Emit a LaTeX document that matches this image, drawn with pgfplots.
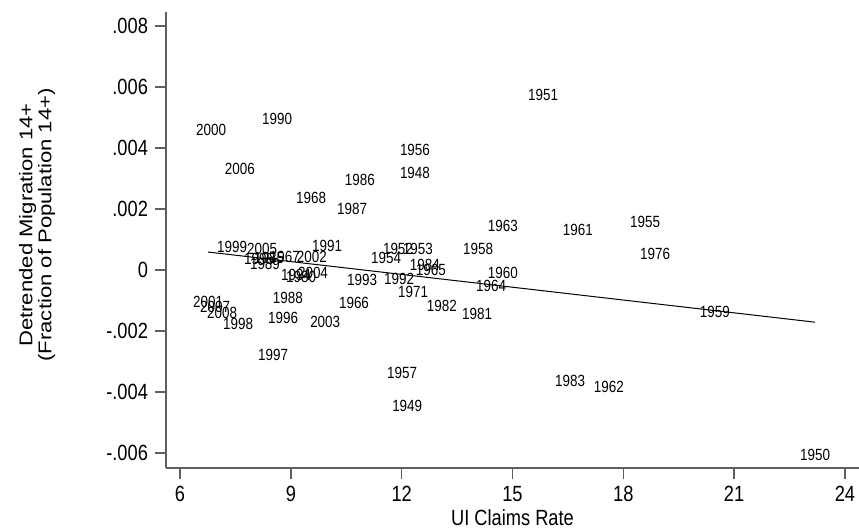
\documentclass[border=0pt]{standalone}
\usepackage{fontspec}
\setmainfont{Liberation Sans}
% the reference is squeezed sideways: horizontal text narrow, vertical text long
\newfontfamily\hfont[FakeStretch=0.83]{Liberation Sans}
\newfontfamily\vfont[FakeStretch=1.2]{Liberation Sans}
\usepackage{pgfplots}
\usepackage{pgfplotstable}
\pgfplotsset{compat=1.18}
\definecolor{axgray}{RGB}{95,95,95}

\pgfplotstableread{
x y lab
15.83 0.00574 1951
6.84 0.00459 2000
8.63 0.00495 1990
12.36 0.00393 1956
7.62 0.00331 2006
12.36 0.00318 1948
10.87 0.00295 1986
9.55 0.00236 1968
10.66 0.00200 1987
14.74 0.00144 1963
16.77 0.00131 1961
18.59 0.00157 1955
18.86 0.00052 1976
14.07 0.00069 1958
14.74 -0.00010 1960
14.42 -0.00052 1964
11.90 0.00069 1952
12.44 0.00069 1953
11.58 0.00039 1954
12.63 0.00016 1984
12.79 0.00000 1965
10.93 -0.00033 1993
11.93 -0.00030 1992
12.31 -0.00072 1971
10.71 -0.00108 1966
13.09 -0.00118 1982
14.04 -0.00144 1981
20.48 -0.00138 1959
12.01 -0.00338 1957
12.15 -0.00446 1949
16.56 -0.00364 1983
17.61 -0.00384 1962
23.19 -0.00607 1950
7.41 0.00075 1999
8.22 0.00069 2005
9.98 0.00079 1991
8.14 0.00036 1995
8.41 0.00039 1985
8.84 0.00043 1967
9.57 0.00043 2002
8.30 0.00020 1989
9.14 -0.00016 1994
9.28 -0.00023 1980
9.60 -0.00010 2004
6.76 -0.00105 2001
6.95 -0.00121 2007
7.14 -0.00141 2008
7.57 -0.00177 1998
8.92 -0.00092 1988
8.79 -0.00157 1996
9.93 -0.00171 2003
8.52 -0.00279 1997
}\yrs

\begin{document}
\begin{tikzpicture}
\useasboundingbox (-83pt,-30.5pt) rectangle (346.5pt,234pt);
\begin{axis}[
    scale only axis,
    width=346.5pt, height=228pt,
    xmin=5.62, xmax=24.38,
    ymin=-0.00649, ymax=0.00846,
    axis x line*=bottom, axis y line*=left,
    axis line style={axgray, line width=0.7pt},
    tick style={axgray, line width=0.7pt},
    tick align=outside, major tick length=5.5pt,
    xtick={6,9,...,24},
    ytick={-0.006,-0.004,-0.002,0,0.002,0.004,0.006,0.008},
    yticklabels={-.006,-.004,-.002,0,.002,.004,.006,.008},
    scaled y ticks=false,
    /pgf/number format/assume math mode=true,
    ticklabel style={font=\fontsize{11}{12}\selectfont\hfont},
    xlabel={UI Claims Rate},
    ylabel={Detrended Migration 14+\\(Fraction of Population 14+)},
    x label style={at={(axis description cs:0.5,0)}, anchor=center, yshift=-25pt,
        font=\fontsize{11}{12}\selectfont\hfont},
    y label style={at={(axis description cs:-0.186,0.533)}, anchor=center, align=center,
        font=\fontsize{9.2}{9.4}\selectfont\vfont},
    clip=false,
]
\addplot[black, line width=0.5pt] coordinates {(6.76,0.00059) (23.19,-0.00171)};
\addplot[only marks, mark=none, nodes near coords, point meta=explicit symbolic,
    nodes near coords style={anchor=center, inner sep=0pt,
        font=\fontsize{8.1}{9}\selectfont\hfont}]
    table[x=x, y=y, meta=lab] {\yrs};
\end{axis}
\end{tikzpicture}
\end{document}
